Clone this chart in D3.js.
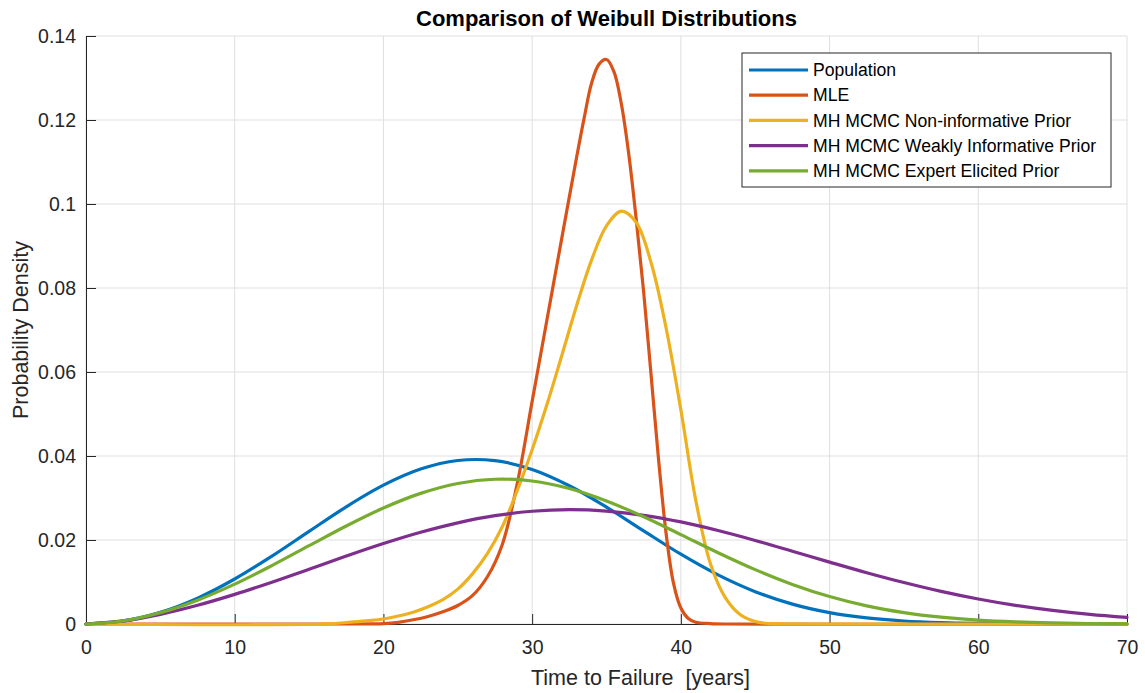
<!DOCTYPE html>
<html>
<head>
<meta charset="utf-8">
<script src="https://cdn.jsdelivr.net/npm/d3@7"></script>
<style>
  html, body { margin: 0; padding: 0; background: #fff; }
  svg { display: block; font-family: "Liberation Sans", Arial, Helvetica, sans-serif; }
</style>
</head>
<body>
<div id="chart"></div>
<script>
// ---- data ----
const xGrid = [0, 2.5, 5, 7.5, 10, 12.5, 15, 17.5, 20, 22.5, 25, 27.5, 30, 32.5, 35,
    37.5, 40, 42.5, 45, 47.5, 50, 52.5, 55, 57.5, 60, 62.5, 65, 67.5, 70];

const population = [0, 0.00069, 0.00277, 0.00615, 0.01071, 0.01615, 0.02206, 0.02790,
    0.03305, 0.03689, 0.03893, 0.03890, 0.03679, 0.03291, 0.02782, 0.02217, 0.01661,
    0.01169, 0.00770, 0.00474, 0.00271, 0.00144, 0.00071, 0.00032, 0.00013, 0.00005,
    0.00002, 0, 0];

const weaklyPrior = [0, 0.00074, 0.00230, 0.00445, 0.00705, 0.00996, 0.01305, 0.01617,
    0.01915, 0.02184, 0.02409, 0.02579, 0.02685, 0.02721, 0.02688, 0.02588, 0.02430,
    0.02226, 0.01990, 0.01734, 0.01474, 0.01221, 0.00987, 0.00776, 0.00595, 0.00444,
    0.00323, 0.00228, 0.00156];

const expertPrior = [0, 0.00076, 0.00271, 0.00568, 0.00949, 0.01391, 0.01864, 0.02334,
    0.02762, 0.03110, 0.03346, 0.03447, 0.03405, 0.03226, 0.02931, 0.02552, 0.02128,
    0.01698, 0.01295, 0.00943, 0.00654, 0.00432, 0.00272, 0.00162, 0.00091, 0.00049,
    0.00025, 0.00012, 0.00005];

const mleX = [0, 18, 20, 21, 22, 23, 24, 25, 26, 27, 28, 29, 30, 31, 32, 33, 33.5, 34,
    34.5, 35, 35.5, 36, 36.5, 37, 37.5, 38, 38.5, 39, 39.5, 40, 40.5, 41, 42, 43, 70];
const mleY = [0, 0, 0.0001, 0.0004, 0.0010, 0.0018, 0.0029, 0.0044, 0.0068, 0.0113,
    0.0190, 0.0335, 0.0530, 0.0725, 0.0920, 0.1113, 0.1205, 0.1288, 0.1333, 0.1344,
    0.1315, 0.1238, 0.1118, 0.0963, 0.0790, 0.0592, 0.0392, 0.0218, 0.0098, 0.0038,
    0.0013, 0.0004, 0.0001, 0, 0];

const nonInfX = [0, 16, 18, 19, 20, 21, 22, 23, 24, 25, 26, 27, 28, 29, 30, 31, 32, 33,
    34, 35, 36, 37, 38, 39, 40, 41, 42, 43, 44, 45, 46, 48, 70];
const nonInfY = [0, 0, 0.0005, 0.0008, 0.0012, 0.0019, 0.0028, 0.0041, 0.0058, 0.0083,
    0.0120, 0.0168, 0.0232, 0.0318, 0.0415, 0.0523, 0.0640, 0.0759, 0.0867, 0.0948,
    0.0983, 0.0956, 0.0860, 0.0706, 0.0510, 0.0295, 0.0142, 0.0062, 0.0022, 0.0006,
    0.0001, 0, 0];

const seriesNames = ["Population", "MLE", "MH MCMC Non-informative Prior",
    "MH MCMC Weakly Informative Prior", "MH MCMC Expert Elicited Prior"];
const seriesColors = ["#0072BD", "#D95319", "#EDB120", "#7E2F8E", "#77AC30"];

const xTicks = [0, 10, 20, 30, 40, 50, 60, 70];
const yTicks = [0, 0.02, 0.04, 0.06, 0.08, 0.1, 0.12, 0.14];

// ---- layout ----
const width = 1145, height = 693;
const margin = { top: 36, right: 18, bottom: 69, left: 86 };
const plotW = width - margin.left - margin.right;
const plotH = height - margin.top - margin.bottom;

const svg = d3.select("#chart").append("svg")
    .attr("width", width)
    .attr("height", height);

svg.append("rect")
    .attr("width", width)
    .attr("height", height)
    .attr("fill", "white");

const g = svg.append("g")
    .attr("transform", `translate(${margin.left},${margin.top})`);

const x = d3.scaleLinear().domain([0, 70]).range([0, plotW]);
const y = d3.scaleLinear().domain([0, 0.14]).range([plotH, 0]);

// grid
g.append("g").selectAll("line").data(xTicks).join("line")
    .attr("x1", d => x(d)).attr("x2", d => x(d))
    .attr("y1", 0).attr("y2", plotH)
    .attr("stroke", "#dfdfdf").attr("stroke-width", 1);
g.append("g").selectAll("line").data(yTicks).join("line")
    .attr("x1", 0).attr("x2", plotW)
    .attr("y1", d => y(d)).attr("y2", d => y(d))
    .attr("stroke", "#dfdfdf").attr("stroke-width", 1);

// axes (ticks point inward, box off)
const xAxis = g.append("g")
    .attr("transform", `translate(0,${plotH})`)
    .call(d3.axisBottom(x).tickValues(xTicks).tickSizeInner(-10).tickSizeOuter(0).tickPadding(16));
const yAxis = g.append("g")
    .call(d3.axisLeft(y).tickValues(yTicks).tickFormat(d => String(d))
        .tickSizeInner(-10).tickSizeOuter(0).tickPadding(10));

[xAxis, yAxis].forEach(a => {
    a.select(".domain").attr("stroke", "#262626");
    a.selectAll(".tick line").attr("stroke", "#262626");
    a.selectAll(".tick text")
        .attr("fill", "#262626")
        .style("font-size", "19.5px")
        .style("font-family", "'Liberation Sans', Arial, sans-serif");
});

// curves
const line = d3.line()
    .x(d => x(d[0]))
    .y(d => y(d[1]))
    .curve(d3.curveCatmullRom);

const curves = [
    d3.zip(xGrid, population),
    d3.zip(mleX, mleY),
    d3.zip(nonInfX, nonInfY),
    d3.zip(xGrid, weaklyPrior),
    d3.zip(xGrid, expertPrior)
];

g.append("g").selectAll("path").data(curves).join("path")
    .attr("d", line)
    .attr("fill", "none")
    .attr("stroke", (d, i) => seriesColors[i])
    .attr("stroke-width", 3.2)
    .attr("stroke-linejoin", "round")
    .attr("stroke-linecap", "round");

// title and labels
svg.append("text")
    .attr("x", margin.left + plotW / 2)
    .attr("y", 26)
    .attr("text-anchor", "middle")
    .style("font-size", "22px")
    .style("font-weight", "bold")
    .attr("fill", "#000")
    .text("Comparison of Weibull Distributions");

svg.append("text")
    .attr("x", 531)
    .attr("y", 685)
    .style("font-size", "21.5px")
    .style("white-space", "pre")
    .attr("fill", "#262626")
    .text("Time to Failure  [years]");

svg.append("text")
    .attr("transform", `translate(28,${margin.top + plotH / 2}) rotate(-90)`)
    .attr("text-anchor", "middle")
    .style("font-size", "21.5px")
    .attr("fill", "#262626")
    .text("Probability Density");

// legend
const legend = svg.append("g").attr("transform", "translate(742,53)");
legend.append("rect")
    .attr("width", 369)
    .attr("height", 134)
    .attr("fill", "white")
    .attr("stroke", "#262626")
    .attr("stroke-width", 1);

const rows = legend.selectAll("g.row").data(seriesNames).join("g")
    .attr("class", "row")
    .attr("transform", (d, i) => `translate(0,${17 + i * 25.2})`);
rows.append("line")
    .attr("x1", 7).attr("x2", 66)
    .attr("stroke", (d, i) => seriesColors[i])
    .attr("stroke-width", 3.2);
rows.append("text")
    .attr("x", 71)
    .attr("dy", "0.35em")
    .style("font-size", "17.6px")
    .attr("fill", "#000")
    .text(d => d);
</script>
</body>
</html>
